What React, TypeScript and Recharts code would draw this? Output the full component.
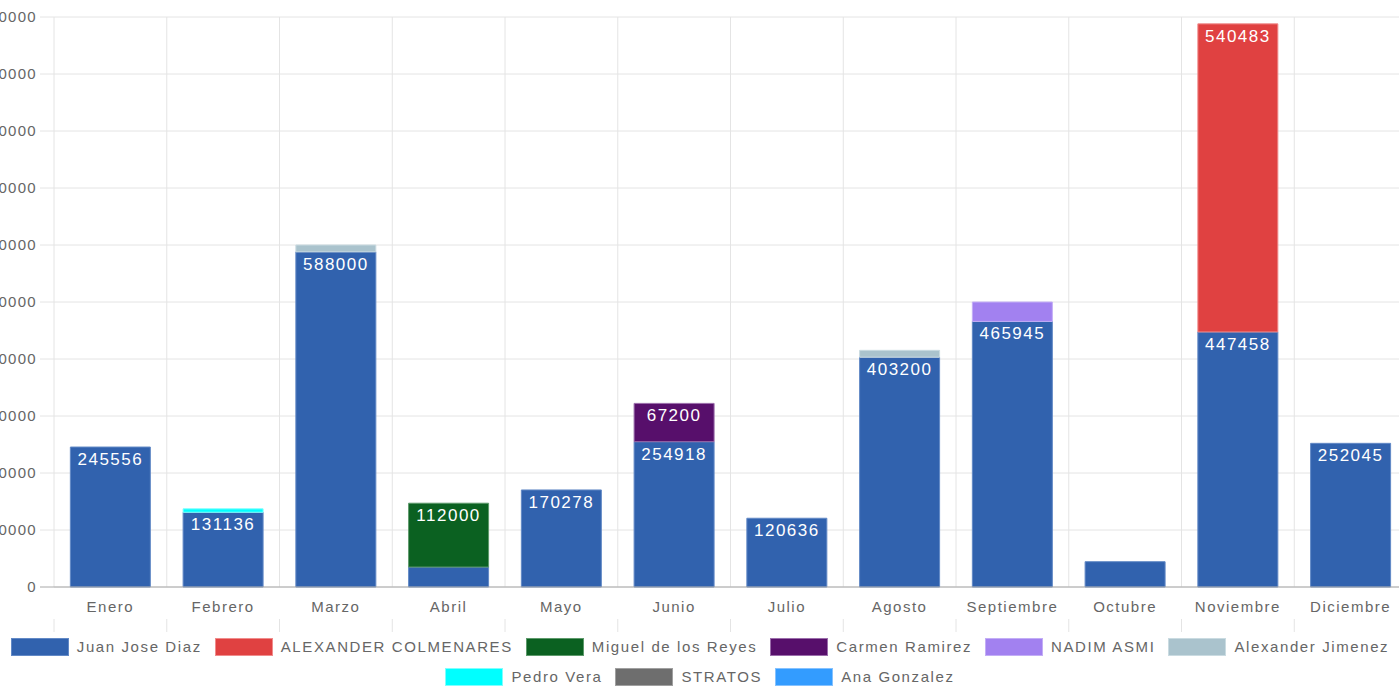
import React from 'react';
import { BarChart, Bar, XAxis, YAxis, CartesianGrid, Legend, LabelList } from 'recharts';

const months = ['Enero', 'Febrero', 'Marzo', 'Abril', 'Mayo', 'Junio', 'Julio', 'Agosto', 'Septiembre', 'Octubre', 'Noviembre', 'Diciembre'];

const juanJoseDiaz = [245556, 131136, 588000, 35000, 170278, 254918, 120636, 403200, 465945, 44400, 447458, 252045];
const alexanderColmenares = [0, 0, 0, 0, 0, 0, 0, 0, 0, 0, 540483, 0];
const miguelDeLosReyes = [0, 0, 0, 112000, 0, 0, 0, 0, 0, 0, 0, 0];
const carmenRamirez = [0, 0, 0, 0, 0, 67200, 0, 0, 0, 0, 0, 0];
const nadimAsmi = [0, 0, 0, 0, 0, 0, 0, 0, 34000, 0, 0, 0];
const alexanderJimenez = [0, 0, 12000, 0, 0, 0, 0, 12000, 0, 0, 0, 0];
const pedroVera = [0, 6000, 0, 0, 0, 0, 0, 0, 0, 0, 0, 0];
const stratos = [0, 0, 0, 0, 0, 0, 0, 0, 0, 0, 0, 0];
const anaGonzalez = [0, 0, 0, 0, 0, 0, 0, 0, 0, 0, 0, 0];

const yTicks = [0, 100000, 200000, 300000, 400000, 500000, 600000, 700000, 800000, 900000, 1000000];
const gridTicks = [0, 1, 2, 3, 4, 5, 6, 7, 8, 9, 10, 11, 12];

const seriesList = [
  { key: 'juan', name: 'Juan Jose Diaz', values: juanJoseDiaz, fill: '#3162ae', stroke: '#6289c6' },
  { key: 'colmenares', name: 'ALEXANDER COLMENARES', values: alexanderColmenares, fill: '#e04141', stroke: '#f08c8c' },
  { key: 'miguel', name: 'Miguel de los Reyes', values: miguelDeLosReyes, fill: '#0b6121', stroke: '#5d9a6b' },
  { key: 'carmen', name: 'Carmen Ramirez', values: carmenRamirez, fill: '#570f6b', stroke: '#9b6dab' },
  { key: 'nadim', name: 'NADIM ASMI', values: nadimAsmi, fill: '#a281f0', stroke: '#c3aef6' },
  { key: 'jimenez', name: 'Alexander Jimenez', values: alexanderJimenez, fill: '#aac3cd', stroke: '#cadbe1' },
  { key: 'pedro', name: 'Pedro Vera', values: pedroVera, fill: '#00ffff', stroke: '#7fffff' },
  { key: 'stratos', name: 'STRATOS', values: stratos, fill: '#6e6e6e', stroke: '#a0a0a0' },
  { key: 'ana', name: 'Ana Gonzalez', values: anaGonzalez, fill: '#339cff', stroke: '#85c2ff' },
];

const data = months.map((m, i) => {
  const row: Record<string, any> = { mes: m, idx: i + 0.5 };
  seriesList.forEach((s) => {
    row[s.key] = s.values[i];
  });
  return row;
});

const FONT = '"Liberation Sans", Arial, sans-serif';

const YTick = (props: any) => {
  const { x, y, payload } = props;
  return (
    <g>
      <line x1={x + 3} x2={x + 17} y1={y} y2={y} stroke={payload.value === 0 ? '#a8a8a8' : '#e4e4e4'} strokeWidth={1} />
      <text x={x} y={y} dy={5} textAnchor="end" fill="#666" fontSize={15} fontFamily={FONT} letterSpacing={1.3}>
        {payload.value}
      </text>
    </g>
  );
};

const GridTick = (props: any) => {
  const { x, y } = props;
  return <line x1={x} x2={x} y1={y - 13} y2={y} stroke="#e4e4e4" strokeWidth={1} />;
};

const LegendContent = () => {
  const rows = [seriesList.slice(0, 6), seriesList.slice(6)];
  return (
    <div style={{ paddingTop: 18, fontFamily: FONT }}>
      {rows.map((row, ri) => (
        <div key={ri} style={{ display: 'flex', justifyContent: 'center', height: 30 }}>
          {row.map((s) => (
            <div key={s.key} style={{ display: 'flex', alignItems: 'flex-start', marginRight: 13 }}>
              <div
                style={{
                  width: 56,
                  height: 16,
                  background: s.fill,
                  border: `1px solid ${s.stroke}`,
                  marginRight: 8,
                }}
              />
              <span style={{ color: '#666', fontSize: 15, letterSpacing: 1.6, lineHeight: '18px' }}>{s.name}</span>
            </div>
          ))}
        </div>
      ))}
    </div>
  );
};

const labelFormatter = (v: any) => (typeof v === 'number' && v >= 50000 ? String(v) : '');

const vGen = ({ offset }: any) => gridTicks.map((t) => offset.left + (t * offset.width) / 12);

export default function App() {
  return (
    <div style={{ position: 'fixed', left: 0, top: 0, width: 1399, height: 686, overflow: 'hidden', background: '#fff' }}>
      <div style={{ position: 'absolute', left: -30, top: 0 }}>
        <BarChart
          width={1437}
          height={700}
          data={data}
          margin={{ top: 17, right: 0, bottom: 0, left: 0 }}
          barCategoryGap="14.5%"
        >
          <CartesianGrid stroke="#e4e4e4" verticalCoordinatesGenerator={vGen} xAxisId="cat" />
          <XAxis
            xAxisId="grid"
            type="number"
            dataKey="idx"
            domain={[0, 12]}
            ticks={gridTicks}
            interval={0}
            tick={<GridTick />}
            tickSize={0}
            tickMargin={13}
            tickLine={false}
            axisLine={false}
            height={1}
            allowDataOverflow
          />
          <XAxis
            xAxisId="cat"
            dataKey="mes"
            tickLine={false}
            tickSize={7}
            tickMargin={7}
            axisLine={{ stroke: '#a8a8a8' }}
            height={32}
            interval={0}
            tick={{ fill: '#666', fontSize: 15, fontFamily: FONT, letterSpacing: 1.5 }}
          />
          <YAxis
            width={84}
            domain={[0, 1000000]}
            ticks={yTicks}
            tickLine={false}
            axisLine={false}
            tickSize={14}
            tickMargin={3}
            interval={0}
            tick={<YTick />}
          />
          <Legend verticalAlign="bottom" height={80} content={<LegendContent />} wrapperStyle={{ left: 37, width: 1399 }} />
          {seriesList.map((s) => (
            <Bar
              key={s.key}
              xAxisId="cat"
              dataKey={s.key}
              name={s.name}
              stackId="a"
              fill={s.fill}
              stroke={s.stroke}
              strokeWidth={1}
              isAnimationActive={false}
            >
              <LabelList
                dataKey={s.key}
                position="insideTop"
                offset={6}
                formatter={labelFormatter}
                fill="#fff"
                fontSize={17}
                fontFamily={FONT}
                letterSpacing={1.5}
              />
            </Bar>
          ))}
        </BarChart>
      </div>
    </div>
  );
}
